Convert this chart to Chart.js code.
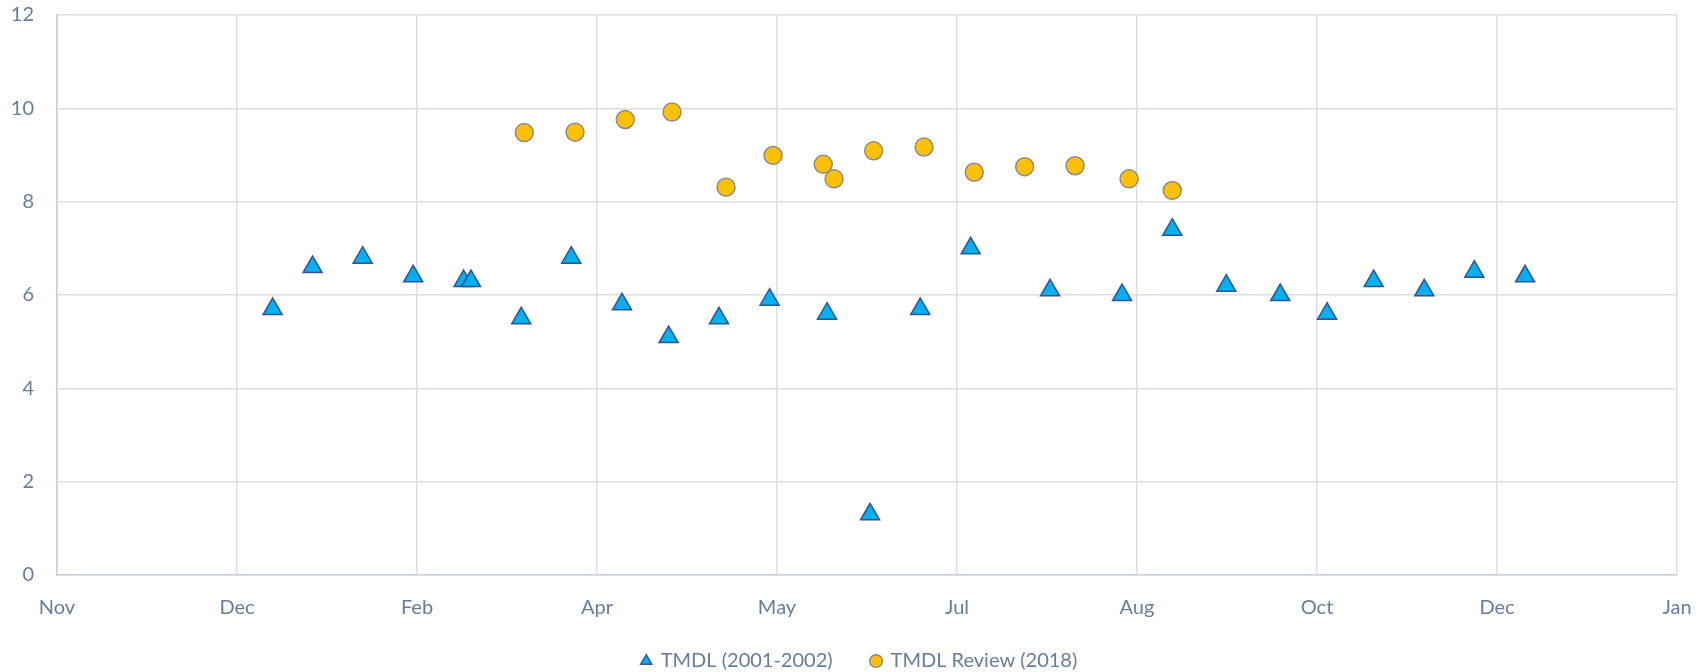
<!DOCTYPE html>
<html>
<head>
<meta charset="utf-8">
<script src="https://cdn.jsdelivr.net/npm/chart.js@4"></script>
<style>
  html, body { margin: 0; padding: 0; background: #ffffff; }
  #wrap { width: 1707px; height: 672px; position: relative; }
</style>
</head>
<body>
<div id="wrap"><canvas id="c" width="1707" height="672"></canvas></div>
<script>
// Tick labels of the x axis (one per gridline, evenly spaced)
const xTickLabels = ['Nov', 'Dec', 'Feb', 'Apr', 'May', 'Jul', 'Aug', 'Oct', 'Dec', 'Jan'];
const yTickValues = [0, 2, 4, 6, 8, 10, 12];

// Series names
const seriesNames = ['TMDL (2001-2002)', 'TMDL Review (2018)'];

// TMDL (2001-2002): x positions in axis units (0 = first gridline "Nov"), y values
const tmdlX = [1.198, 1.420, 1.698, 1.979, 2.259, 2.300, 2.579, 2.857, 3.139, 3.398, 3.678, 3.959, 4.278,
               4.517, 4.796, 5.076, 5.517, 5.917, 6.196, 6.496, 6.796, 7.056, 7.315, 7.596, 7.874, 8.156];
const tmdlY = [5.7, 6.6, 6.8, 6.4, 6.3, 6.3, 5.5, 6.8, 5.8, 5.1, 5.5, 5.9, 5.6,
               1.3, 5.7, 7.0, 6.1, 6.0, 7.4, 6.2, 6.0, 5.6, 6.3, 6.1, 6.5, 6.4];

// TMDL Review (2018)
const reviewX = [2.596, 2.878, 3.157, 3.417, 3.717, 3.978, 4.257, 4.317, 4.537, 4.817, 5.096, 5.376, 5.656, 5.956, 6.196];
const reviewY = [9.48, 9.49, 9.76, 9.92, 8.31, 8.99, 8.80, 8.49, 9.09, 9.17, 8.63, 8.75, 8.77, 8.49, 8.24];

const toPoints = (xs, ys) => xs.map((x, i) => ({ x: x, y: ys[i] }));

const textColor = '#687c9e';
const gridColor = '#d9dee8';
const fontFamily = 'Lato, "Open Sans", sans-serif';

// Nudges the legend block to where the reference has it, and lets the x tick labels
// extend below the (short) x-axis box without being clipped.
const placementPlugin = {
  id: 'placement',
  afterLayout(chart) {
    const lg = chart.legend;
    if (lg) {
      lg.left += 21; lg.right += 21;
      lg.top += 9; lg.bottom += 9;
    }
    const xs = chart.scales.x;
    xs.bottom = chart.height;
    xs.height = xs.bottom - xs.top;
  }
};

new Chart(document.getElementById('c'), {
  type: 'scatter',
  data: {
    datasets: [
      {
        label: seriesNames[0],
        data: toPoints(tmdlX, tmdlY),
        pointStyle: 'triangle',
        pointRadius: 11,
        pointHoverRadius: 11,
        backgroundColor: '#00b0f0',
        borderColor: '#2f5597',
        borderWidth: 1.5
      },
      {
        label: seriesNames[1],
        data: toPoints(reviewX, reviewY),
        pointStyle: 'circle',
        pointRadius: 9,
        pointHoverRadius: 9,
        backgroundColor: '#ffc000',
        borderColor: '#8c8c8c',
        borderWidth: 1.5
      }
    ]
  },
  plugins: [placementPlugin],
  options: {
    responsive: false,
    animation: false,
    events: [],
    layout: { padding: { left: 0, right: 30, top: 15, bottom: 0 } },
    scales: {
      x: {
        type: 'linear',
        min: 0,
        max: xTickLabels.length - 1,
        afterBuildTicks: (scale) => { scale.ticks = xTickLabels.map((_, i) => ({ value: i })); },
        afterFit: (scale) => { scale.height = 28; scale.paddingLeft = 0; scale.paddingRight = 0; },
        ticks: {
          stepSize: 1,
          autoSkip: false,
          maxRotation: 0,
          padding: 21,
          color: textColor,
          font: { family: fontFamily, size: 20 },
          callback: (v) => xTickLabels[Math.round(v)]
        },
        grid: { color: gridColor, lineWidth: 1.5, drawTicks: false },
        border: { display: true, color: '#c9d0dd', width: 1.5 }
      },
      y: {
        min: 0,
        max: 12,
        afterBuildTicks: (scale) => { scale.ticks = yTickValues.map(v => ({ value: v })); },
        afterFit: (scale) => { scale.width = 57; scale.paddingTop = 0; scale.paddingBottom = 0; },
        ticks: {
          stepSize: 2,
          padding: 23,
          color: textColor,
          font: { family: fontFamily, size: 20 }
        },
        grid: { color: gridColor, lineWidth: 1.5, drawTicks: false },
        border: { display: true, color: '#c9d0dd', width: 1.5 }
      }
    },
    plugins: {
      legend: {
        position: 'bottom',
        labels: {
          usePointStyle: true,
          boxWidth: 9,
          boxHeight: 9,
          padding: 39,
          color: textColor,
          font: { family: fontFamily, size: 20 }
        }
      },
      tooltip: { enabled: false }
    }
  }
});
</script>
</body>
</html>
